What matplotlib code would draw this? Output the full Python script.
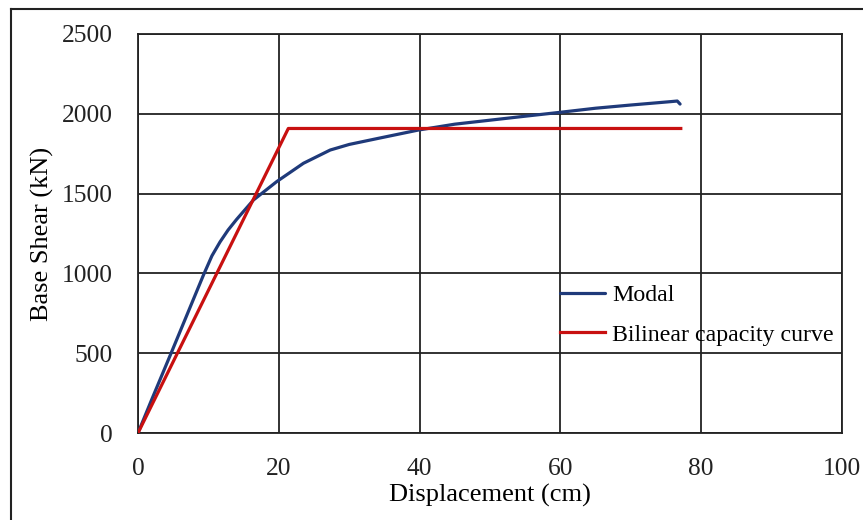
import matplotlib
matplotlib.use("Agg")
import matplotlib.pyplot as plt
from matplotlib.lines import Line2D

# Data
modal_disp = [0, 2, 4.7, 7, 9.3, 10.5, 11.65, 12.8, 14, 16.4, 19.7, 23.5, 27.3, 30, 34, 39.8, 45, 50, 55, 59.9, 65, 70, 75.6, 76.6, 77.0]
modal_shear = [0, 215, 500, 745, 990, 1110, 1197, 1272, 1338, 1460, 1575, 1690, 1773, 1808, 1845, 1898, 1935, 1960, 1985, 2009, 2035, 2055, 2076, 2080, 2061]
bilin_disp = [0, 21.35, 77.1]
bilin_shear = [0, 1908, 1908]
x_ticks = [0, 20, 40, 60, 80, 100]
y_ticks = [0, 500, 1000, 1500, 2000, 2500]

plt.rcParams['font.family'] = ['Liberation Serif', 'DejaVu Serif']

fig = plt.figure(figsize=(8.63, 5.2), dpi=100)
ax = fig.add_axes([138/863, 1-433/520, (842-138)/863, (433-34)/520])

ax.plot(modal_disp, modal_shear, color='#1F3A7A', lw=2.3, label='Modal', zorder=3,
        solid_capstyle='round', solid_joinstyle='round')
ax.plot(bilin_disp, bilin_shear, color='#C81010', lw=2.3, label='Bilinear capacity curve', zorder=3)

ax.set_xlim(0, 100)
ax.set_ylim(0, 2500)
ax.set_xticks(x_ticks)
ax.set_yticks(y_ticks)
ax.grid(True, color='#222222', lw=1.3)
ax.set_axisbelow(True)
for s in ax.spines.values():
    s.set_color('#222222')
    s.set_linewidth(1.3)
ax.tick_params(length=0, labelsize=18.4, colors='#222222')
ax.tick_params(axis='x', pad=18)
ax.tick_params(axis='y', pad=18)
ax.set_xlabel('Displacement (cm)', fontsize=19)
ax.set_ylabel('Base Shear (kN)', fontsize=19)
ax.xaxis.set_label_coords(0.5, (433-484)/399)
ax.yaxis.set_label_coords((54-138)/704, 0.5)

leg = ax.legend(loc='upper left', bbox_to_anchor=((550-138)/704, (433-275)/399), frameon=False,
                fontsize=17.2, handlelength=1.9, handletextpad=0.3, labelspacing=0.74, borderaxespad=0)

# Figure border (partial frame)
fig.add_artist(Line2D([11/863, 11/863], [0, 1-9/520], transform=fig.transFigure, color='#222222', lw=1.5))
fig.add_artist(Line2D([11/863, 1], [1-9/520, 1-9/520], transform=fig.transFigure, color='#222222', lw=1.5))

fig.savefig('out.png', dpi=100)
